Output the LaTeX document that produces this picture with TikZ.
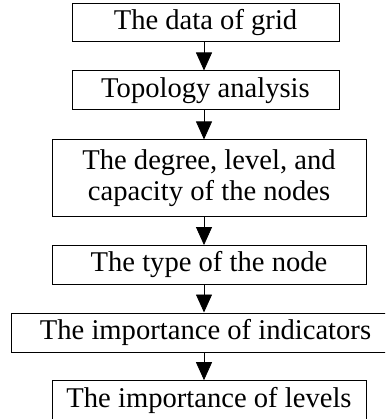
\documentclass[tikz,border=0pt]{standalone}
\usepackage{fontspec}
\setmainfont{Liberation Serif}
\usepackage{tikz}
\usetikzlibrary{arrows.meta}

\begin{document}
\begin{tikzpicture}[x=1pt,y=-1pt,
  box/.style={draw,line width=1pt,inner sep=0pt,align=center,font=\fontsize{28.6}{31}\selectfont},
  flow/.style={-{Triangle[width=16pt,length=18pt]},line width=0.8pt}]
\useasboundingbox (0,0) rectangle (385,419);
\clip (0,0) rectangle (385,419);
\coordinate (axis) at (204,0);
\node (data) [box,minimum width=267pt,minimum height=38pt] at (205.5,23) {The data of grid};
\node (topo) [box,minimum width=267pt,minimum height=39pt] at (205.5,90.5) {Topology analysis};
\node (degree) [box,minimum width=314pt,minimum height=76.5pt] at (209,178.2) {The degree, level, and\\capacity of the nodes};
\node (type) [box,minimum width=314pt,minimum height=38.5pt] at (209,264.8) {The type of the node};
\node (indic) [box,minimum width=389pt,minimum height=39pt] at (205.5,332.5) {The importance of indicators};
\node (levels) [box,minimum width=314pt,minimum height=40pt] at (209,400.7) {The importance of levels};
\draw [flow] (data.south -| axis) -- (topo.north -| axis);
\draw [flow] (topo.south -| axis) -- (degree.north -| axis);
\draw [flow] (degree.south -| axis) -- (type.north -| axis);
\draw [flow] (type.south -| axis) -- (indic.north -| axis);
\draw [flow] (indic.south -| axis) -- (levels.north -| axis);
\end{tikzpicture}
\end{document}
